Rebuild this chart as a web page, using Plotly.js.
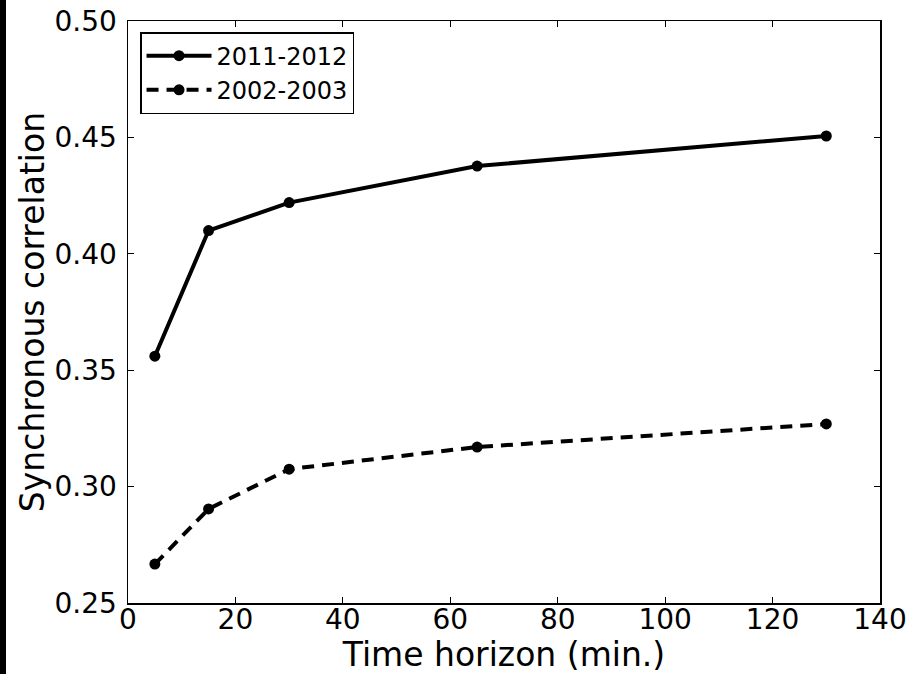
<!DOCTYPE html>
<html>
<head>
<meta charset="utf-8">
<script src="https://cdn.plot.ly/plotly-3.0.1.min.js"></script>
<style>
  html, body { margin: 0; padding: 0; background: #fff; }
  #chart { width: 916px; height: 674px; position: absolute; left: 0; top: 0; }
  #strip { position: absolute; left: 0; top: 0; width: 6px; height: 674px; background: #000; z-index: 10; }
</style>
</head>
<body>
<div id="chart"></div>
<div id="strip"></div>
<script>
const horizons = [5, 15, 30, 65, 130];
const corr20112012 = [0.356, 0.410, 0.422, 0.4377, 0.4506];
const corr20022003 = [0.2667, 0.2904, 0.3075, 0.317, 0.3269];
const seriesNames = ['2011-2012', '2002-2003'];
const xTicks = [0, 20, 40, 60, 80, 100, 120, 140];
const yTicks = [0.25, 0.30, 0.35, 0.40, 0.45, 0.50];

const font = 'DejaVu Sans, Verdana, sans-serif';

const traces = [
  {
    x: horizons, y: corr20112012, name: seriesNames[0],
    mode: 'lines+markers', type: 'scatter',
    line: { color: '#000', width: 4 },
    marker: { color: '#000', size: 11 }
  },
  {
    x: horizons, y: corr20022003, name: seriesNames[1],
    mode: 'lines+markers', type: 'scatter',
    line: { color: '#000', width: 4, dash: '12px,8px' },
    marker: { color: '#000', size: 11 }
  }
];

const layout = {
  width: 916, height: 674,
  margin: { l: 128, r: 36, t: 21, b: 71, pad: 0 },
  paper_bgcolor: '#fff', plot_bgcolor: '#fff',
  font: { family: font, color: '#000' },
  showlegend: true,
  legend: {
    x: 0.016, y: 0.981, xanchor: 'left', yanchor: 'top',
    bordercolor: '#000', borderwidth: 1.5, bgcolor: '#fff',
    font: { family: font, size: 24, color: '#000' },
    itemwidth: 65
  },
  xaxis: {
    range: [0, 140], tickvals: xTicks, ticktext: xTicks.map(String),
    ticks: 'inside', ticklen: 6, tickwidth: 1, tickcolor: '#000',
    showline: true, linecolor: '#000', linewidth: 1.5, mirror: 'ticks',
    showgrid: false, zeroline: false,
    tickfont: { family: font, size: 28, color: '#000' },
    ticklabelstandoff: -9,
    title: { text: 'Time horizon (min.)', font: { family: font, size: 33, color: '#000' }, standoff: 10 },
    automargin: false
  },
  yaxis: {
    range: [0.25, 0.50], tickvals: yTicks, ticktext: yTicks.map(v => v.toFixed(2)),
    ticks: 'inside', ticklen: 6, tickwidth: 1, tickcolor: '#000',
    showline: true, linecolor: '#000', linewidth: 1.5, mirror: 'ticks',
    showgrid: false, zeroline: false,
    tickfont: { family: font, size: 28, color: '#000' },
    ticklabelstandoff: 4,
    title: { text: 'Synchronous correlation', font: { family: font, size: 33, color: '#000' }, standoff: 0 },
    automargin: false
  }
};

Plotly.newPlot('chart', traces, layout, { staticPlot: true, displayModeBar: false });
</script>
</body>
</html>
